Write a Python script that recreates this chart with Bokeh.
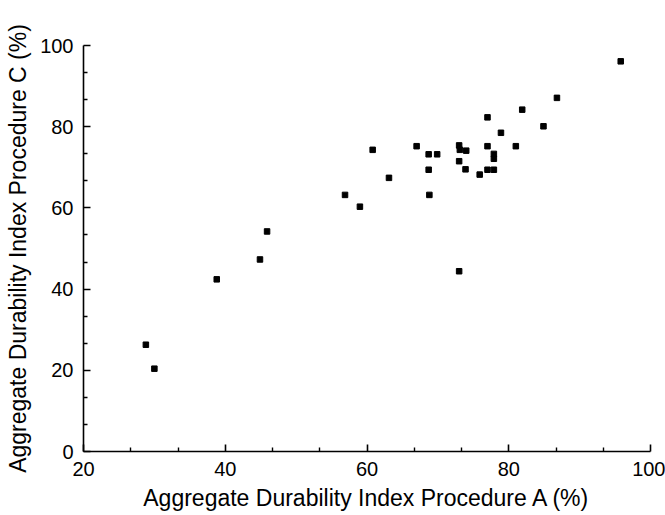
from bokeh.plotting import figure
from bokeh.models import Range1d, FixedTicker
from bokeh.embed import file_html
from bokeh.resources import INLINE

# Aggregate Durability Index, Procedure A (%) vs Procedure C (%)
proc_a = [86.8, 81.9, 77.0, 84.9, 78.9, 81.0, 77.0, 73.0, 67.0, 60.8,
          73.1, 74.0, 68.7, 69.9, 77.9, 77.9, 73.0, 68.7, 73.9, 77.0,
          77.9, 75.9, 63.1, 56.9, 59.0, 68.8, 73.0, 44.9, 38.8, 28.8,
          30.0, 45.9, 95.8]
proc_c = [87.1, 84.2, 82.3, 80.1, 78.5, 75.2, 75.2, 75.4, 75.2, 74.3,
          74.3, 74.1, 73.2, 73.2, 73.3, 72.1, 71.5, 69.4, 69.5, 69.4,
          69.4, 68.2, 67.4, 63.2, 60.3, 63.2, 44.4, 47.3, 42.4, 26.3,
          20.4, 54.2, 96.1]

x_ticks = [20, 40, 60, 80, 100]
y_ticks = [0, 20, 40, 60, 80, 100]
x_title = "Aggregate Durability Index Procedure A (%)"
y_title = "Aggregate Durability Index Procedure C (%)"


def minors(ticks, n=3):
    out = []
    for a, b in zip(ticks[:-1], ticks[1:]):
        step = (b - a) / n
        out += [a + step * k for k in range(1, n)]
    return out


p = figure(width=665, height=515, output_backend="svg", toolbar_location=None,
           x_range=Range1d(x_ticks[0], x_ticks[-1]),
           y_range=Range1d(y_ticks[0], y_ticks[-1]),
           min_border_left=83, min_border_right=15,
           min_border_top=45, min_border_bottom=64)

p.scatter(proc_a, proc_c, marker="square", size=5.5, color="black")

p.xgrid.visible = False
p.ygrid.visible = False
p.outline_line_color = None
p.background_fill_color = "white"
p.border_fill_color = "white"

p.xaxis.ticker = FixedTicker(ticks=x_ticks, minor_ticks=minors(x_ticks))
p.yaxis.ticker = FixedTicker(ticks=y_ticks, minor_ticks=minors(y_ticks))

for ax in (p.xaxis[0], p.yaxis[0]):
    ax.axis_line_color = "black"
    ax.axis_line_width = 1.6
    ax.major_tick_line_color = "black"
    ax.major_tick_line_width = 1.6
    ax.minor_tick_line_color = "black"
    ax.minor_tick_line_width = 1.4
    ax.major_tick_in = 7
    ax.major_tick_out = 0
    ax.minor_tick_in = 4
    ax.minor_tick_out = 0
    ax.major_label_text_font = "Liberation Sans"
    ax.major_label_text_font_size = "20px"
    ax.major_label_text_color = "black"
    ax.major_label_standoff = 10
    ax.axis_label_text_font = "Liberation Sans"
    ax.axis_label_text_font_size = "23px"
    ax.axis_label_text_font_style = "normal"
    ax.axis_label_text_color = "black"

p.xaxis.axis_label = x_title
p.yaxis.axis_label = y_title
p.xaxis.axis_label_standoff = 6
p.yaxis.axis_label_standoff = 6

open("out.html", "w").write(file_html(p, INLINE))
